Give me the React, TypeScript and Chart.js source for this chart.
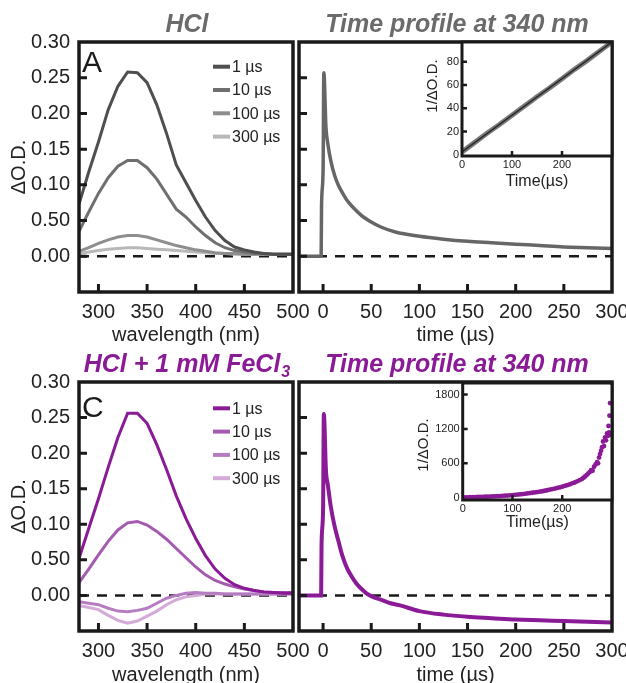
import React, { useEffect, useRef } from 'react';
import { Chart, registerables } from 'chart.js';

Chart.register(...registerables);

const FONT = '"Liberation Sans", Arial, Helvetica, sans-serif';
const INK = '#1a1a1a';
const TXT = '#222222';

// ---------- Panels A & C : transient spectra ----------
const wavelengths = [280, 290, 300, 310, 320, 330, 340, 350, 360, 370, 380, 390, 400, 410, 420, 430, 440, 450, 460, 470, 480, 490, 500];
const hcl1us = [0.073, 0.118, 0.160, 0.205, 0.238, 0.258, 0.257, 0.243, 0.212, 0.172, 0.128, 0.103, 0.078, 0.055, 0.036, 0.022, 0.013, 0.009, 0.006, 0.004, 0.003, 0.003, 0.003];
const hcl10us = [0.035, 0.062, 0.088, 0.110, 0.126, 0.134, 0.134, 0.124, 0.108, 0.087, 0.066, 0.055, 0.041, 0.029, 0.019, 0.012, 0.008, 0.006, 0.004, 0.004, 0.003, 0.003, 0.003];
const hcl100us = [0.007, 0.012, 0.018, 0.023, 0.027, 0.029, 0.029, 0.027, 0.023, 0.019, 0.015, 0.012, 0.009, 0.007, 0.005, 0.004, 0.004, 0.003, 0.003, 0.003, 0.003, 0.003, 0.003];
const hcl300us = [0.004, 0.006, 0.008, 0.010, 0.011, 0.012, 0.012, 0.011, 0.010, 0.009, 0.008, 0.007, 0.006, 0.005, 0.004, 0.004, 0.003, 0.003, 0.003, 0.003, 0.003, 0.003, 0.003];
const fe1us = [0.052, 0.094, 0.136, 0.180, 0.222, 0.256, 0.256, 0.242, 0.212, 0.177, 0.140, 0.108, 0.080, 0.056, 0.037, 0.024, 0.015, 0.010, 0.007, 0.005, 0.004, 0.003, 0.003];
const fe10us = [0.018, 0.037, 0.057, 0.076, 0.092, 0.102, 0.104, 0.099, 0.090, 0.079, 0.066, 0.053, 0.040, 0.029, 0.021, 0.016, 0.012, 0.009, 0.007, 0.005, 0.004, 0.004, 0.004];
const fe100us = [-0.009, -0.011, -0.013, -0.018, -0.022, -0.023, -0.021, -0.018, -0.011, -0.004, 0.000, 0.003, 0.004, 0.003, 0.003, 0.002, 0.002, 0.002, 0.002, 0.002, 0.002, 0.002, 0.002];
const fe300us = [-0.014, -0.017, -0.020, -0.028, -0.035, -0.039, -0.036, -0.029, -0.022, -0.013, -0.006, -0.002, 0.000, 0.002, 0.002, 0.002, 0.002, 0.002, 0.002, 0.002, 0.002, 0.002, 0.002];
const delayLabels = ['1 µs', '10 µs', '100 µs', '300 µs'];
const grayColors = ['#4f4f4f', '#6f6f6f', '#8e8e8e', '#b8b8b8'];
const purpleColors = ['#8a1a95', '#a45aaf', '#b67cc1', '#d4aad9'];

// ---------- Panels B & D : time profiles at 340 nm ----------
const timeB = [-25, -2, -1.6, 0, 0.8, 3, 5, 8, 12, 16, 20, 25, 30, 40, 50, 60, 75, 100, 125, 150, 175, 200, 225, 250, 275, 300];
const odB = [0, 0, 0.07, 0.12, 0.257, 0.18, 0.157, 0.134, 0.113, 0.099, 0.089, 0.078, 0.070, 0.057, 0.048, 0.041, 0.034, 0.028, 0.024, 0.021, 0.019, 0.017, 0.015, 0.013, 0.012, 0.011];
const timeD = [-25, -2, -1.6, 0, 0.8, 3, 5, 8, 12, 16, 20, 25, 30, 35, 40, 45, 50, 60, 70, 80, 100, 125, 150, 175, 200, 225, 250, 275, 300];
const odD = [0, 0, 0.07, 0.12, 0.255, 0.175, 0.155, 0.125, 0.097, 0.076, 0.056, 0.038, 0.026, 0.016, 0.009, 0.003, -0.001, -0.006, -0.011, -0.014, -0.022, -0.027, -0.030, -0.032, -0.034, -0.035, -0.036, -0.037, -0.038];

// ---------- Insets : 1/ΔO.D. vs time ----------
const insetBTime = [0, 25, 50, 75, 100, 125, 150, 175, 200, 225, 250, 275, 300];
const insetBInvOD = [2.5, 10.5, 18.5, 26, 34, 42, 50, 57.5, 65.5, 73.5, 81, 89, 97];
const insetBFitTime = [0, 300];
const insetBFitInvOD = [2.5, 97];
const insetDTime = [0, 5, 10, 15, 20, 25, 30, 35, 40, 45, 50, 55, 60, 65, 70, 75, 80, 85, 90, 95, 100, 105, 110, 115, 120, 125, 130, 135, 140, 145, 150, 155, 160, 165, 170, 175, 180, 185, 190, 195, 200, 205, 210, 215, 220, 225, 230, 235, 240, 243, 246, 249, 252, 255, 258, 261, 264, 267, 270, 272, 274, 276, 278, 280, 282, 284, 286, 288, 290, 292, 293, 294, 295, 296, 297, 298, 299, 300];
const insetDInvOD = [2, 4, 6, 8, 9, 11, 12, 14, 15, 17, 18, 20, 22, 24, 27, 29, 32, 35, 38, 42, 46, 50, 54, 58, 63, 68, 74, 80, 86, 92, 98, 105, 113, 121, 130, 140, 150, 158, 170, 180, 192, 205, 218, 232, 250, 265, 285, 305, 330, 350, 370, 395, 420, 445, 480, 470, 540, 580, 620, 600, 700, 760, 820, 880, 980, 900, 1050, 1000, 1120, 1080, 1250, 1140, 1430, 1650, 1100, 1120, 1110, 2000];

// ---------- Tick values / labels ----------
const specYTicks = [0, 0.05, 0.1, 0.15, 0.2, 0.25, 0.3];
const specYTickLabels = ['0.00', '0.50', '0.10', '0.15', '0.20', '0.25', '0.30'];
const specXTicks = [300, 350, 400, 450, 500];
const timeXTicks = [0, 50, 100, 150, 200, 250, 300];
const insetXTicks = [0, 100, 200, 300];
const insetXTickLabels = ['0', '100', '200', ''];
const insetBYTicks = [0, 20, 40, 60, 80];
const insetDYTicks = [0, 600, 1200, 1800];

function makeDecor(cfg: any) {
  return {
    id: 'decor',
    beforeDatasetsDraw(chart: any) {
      if (!cfg.fillArea) return;
      const { ctx, chartArea: a } = chart;
      ctx.save();
      ctx.fillStyle = '#ffffff';
      ctx.fillRect(a.left, a.top, a.right - a.left, a.bottom - a.top);
      ctx.restore();
    },
    afterDraw(chart: any) {
      const { ctx, chartArea: a } = chart;
      const xs = chart.scales.x;
      const ys = chart.scales.y;
      ctx.save();
      ctx.strokeStyle = INK;
      ctx.lineCap = 'butt';
      ctx.lineWidth = cfg.tickWidth;
      ctx.beginPath();
      xs.ticks.forEach((t: any) => {
        const p = xs.getPixelForValue(t.value);
        if (p > a.left + 3 && p < a.right - 3) {
          ctx.moveTo(p, a.bottom);
          ctx.lineTo(p, a.bottom - cfg.tickLen);
        }
      });
      ys.ticks.forEach((t: any) => {
        const p = ys.getPixelForValue(t.value);
        if (p > a.top + 3 && p < a.bottom - 3) {
          ctx.moveTo(a.left, p);
          ctx.lineTo(a.left + cfg.tickLen, p);
        }
      });
      ctx.stroke();
      ctx.lineWidth = cfg.frameWidth;
      ctx.strokeRect(a.left, a.top, a.right - a.left, a.bottom - a.top);

      if (cfg.letter) {
        ctx.fillStyle = INK;
        ctx.font = `30px ${FONT}`;
        ctx.textAlign = 'left';
        ctx.textBaseline = 'alphabetic';
        ctx.fillText(cfg.letter.text, cfg.letter.x, cfg.letter.y);
      }
      if (cfg.legend) {
        const L = cfg.legend;
        L.labels.forEach((lab: string, i: number) => {
          const y = L.y + i * L.dy;
          ctx.strokeStyle = L.colors[i];
          ctx.lineWidth = 4;
          ctx.beginPath();
          ctx.moveTo(L.x, y);
          ctx.lineTo(L.x + 17, y);
          ctx.stroke();
          ctx.fillStyle = TXT;
          ctx.font = `16px ${FONT}`;
          ctx.textAlign = 'left';
          ctx.textBaseline = 'middle';
          ctx.fillText(lab, L.x + 19, y + 1);
        });
      }
      if (cfg.title) {
        const T = cfg.title;
        ctx.fillStyle = T.color;
        ctx.textBaseline = 'alphabetic';
        ctx.textAlign = 'left';
        ctx.font = `italic bold 25px ${FONT}`;
        const w1 = ctx.measureText(T.text).width;
        let w2 = 0;
        if (T.sub) {
          ctx.font = `italic bold 16px ${FONT}`;
          w2 = ctx.measureText(T.sub).width + 1;
        }
        const x0 = T.x - (w1 + w2) / 2;
        ctx.font = `italic bold 25px ${FONT}`;
        ctx.fillText(T.text, x0, T.y);
        if (T.sub) {
          ctx.font = `italic bold 16px ${FONT}`;
          ctx.fillText(T.sub, x0 + w1 + 1, T.y + 5);
        }
      }
      if (cfg.yTitle) {
        ctx.translate(cfg.yTitle.x, cfg.yTitle.y);
        ctx.rotate(-Math.PI / 2);
        ctx.font = `15px ${FONT}`;
        ctx.fillStyle = TXT;
        ctx.textAlign = 'center';
        ctx.textBaseline = 'middle';
        ctx.fillText(cfg.yTitle.text, 0, 0);
      }
      ctx.restore();
    },
  };
}

function xAxis(min: number, max: number, ticks: number[], labels: string[] | null, height: number, fontSize: number, pad: number, title: string, titleSize: number, titlePad: number) {
  return {
    type: 'linear',
    min,
    max,
    afterBuildTicks: (s: any) => { s.ticks = ticks.map((v) => ({ value: v })); },
    afterFit: (s: any) => { s.height = height; },
    grid: { display: false, drawTicks: false },
    border: { display: false },
    ticks: {
      autoSkip: false,
      maxRotation: 0,
      minRotation: 0,
      padding: pad,
      color: TXT,
      font: { family: FONT, size: fontSize },
      callback: (v: any, i: number) => (labels ? labels[i] : String(v)),
    },
    title: { display: true, text: title, color: TXT, font: { family: FONT, size: titleSize }, padding: { top: 0, bottom: titlePad } },
  };
}

function yAxis(min: number, max: number, ticks: number[], labels: string[] | null, width: number, show: boolean, fontSize: number, pad: number, title: string | null) {
  return {
    type: 'linear',
    min,
    max,
    afterBuildTicks: (s: any) => { s.ticks = ticks.map((v) => ({ value: v })); },
    afterFit: (s: any) => { s.width = width; },
    grid: { display: false, drawTicks: false },
    border: { display: false },
    ticks: {
      display: show,
      autoSkip: false,
      padding: pad,
      color: TXT,
      font: { family: FONT, size: fontSize },
      callback: (v: any, i: number) => (labels ? labels[i] : String(v)),
    },
    title: title
      ? { display: true, text: title, color: TXT, font: { family: FONT, size: 20 }, padding: { top: 7, bottom: 0 } }
      : { display: false },
  };
}

const baseOptions = {
  responsive: false,
  maintainAspectRatio: false,
  animation: false,
  devicePixelRatio: 1,
  events: [],
  plugins: { legend: { display: false }, tooltip: { enabled: false } },
};

function zeroLine(x0: number, x1: number) {
  return {
    label: 'zero',
    data: [{ x: x0, y: 0 }, { x: x1, y: 0 }],
    borderColor: INK,
    borderWidth: 2.5,
    borderDash: [10, 8],
    pointRadius: 0,
    order: 10,
  };
}

function spectrumConfig(series: number[][], colors: string[], xHeight: number, decor: any) {
  return {
    type: 'line',
    data: {
      datasets: [
        ...series.map((s, i) => ({
          label: delayLabels[i],
          data: wavelengths.map((w, j) => ({ x: w, y: s[j] })),
          borderColor: colors[i],
          borderWidth: 3,
          pointRadius: 0,
          tension: 0,
          order: i,
        })),
        zeroLine(280, 500),
      ],
    },
    options: {
      ...baseOptions,
      layout: { padding: { left: 0, top: 42, right: 37, bottom: 0 } },
      scales: {
        x: xAxis(280, 500, specXTicks, null, xHeight, 20, 8, 'wavelength (nm)', 20, 8),
        y: yAxis(-0.05, 0.3, specYTicks, specYTickLabels, 79, true, 20, 9, 'ΔO.D.'),
      },
    },
    plugins: [makeDecor(decor)],
  };
}

function decayConfig(times: number[], values: number[], color: string, width: number, xHeight: number, decor: any) {
  return {
    type: 'line',
    data: {
      datasets: [
        {
          label: '340 nm',
          data: times.map((t, j) => ({ x: t, y: values[j] })),
          borderColor: color,
          borderWidth: width,
          pointRadius: 0,
          cubicInterpolationMode: 'monotone',
          order: 0,
        },
        zeroLine(-25, 300),
      ],
    },
    options: {
      ...baseOptions,
      layout: { padding: { left: 0, top: 42, right: 38, bottom: 0 } },
      scales: {
        x: xAxis(-25, 300, timeXTicks, null, xHeight, 20, 8, 'time (µs)', 20, 8),
        y: yAxis(-0.05, 0.3, specYTicks, null, 9, false, 20, 9, null),
      },
    },
    plugins: [makeDecor(decor)],
  };
}

function insetConfig(datasets: any[], yMin: number, yMax: number, yTicks: number[], yWidth: number, xHeight: number, decor: any) {
  return {
    type: 'line',
    data: { datasets },
    options: {
      ...baseOptions,
      layout: { padding: { left: 0, top: 12, right: 28, bottom: 0 } },
      scales: {
        x: xAxis(0, 300, insetXTicks, insetXTickLabels, xHeight, 11, 2, 'Time(µs)', 16, 18.4),
        y: yAxis(yMin, yMax, yTicks, null, yWidth, true, 11, 3, null),
      },
    },
    plugins: [makeDecor(decor)],
  };
}

function ChartBox({ left, top, width, height, config }: any) {
  const ref = useRef<HTMLCanvasElement | null>(null);
  useEffect(() => {
    const chart = new Chart(ref.current as HTMLCanvasElement, config);
    return () => chart.destroy();
  }, []);
  return (
    <canvas
      ref={ref}
      width={width}
      height={height}
      style={{ position: 'absolute', left, top, width, height }}
    />
  );
}

export default function App() {
  const mainDecor = { frameWidth: 3.5, tickWidth: 3, tickLen: 8 };
  const insetDecor = { frameWidth: 3, tickWidth: 2.5, tickLen: 5, fillArea: true };

  const cfgA = spectrumConfig([hcl1us, hcl10us, hcl100us, hcl300us], grayColors, 63, {
    ...mainDecor,
    letter: { text: 'A', x: 82, y: 72 },
    legend: { labels: delayLabels, colors: grayColors, x: 213, y: 66.7, dy: 23.3 },
    title: { text: 'HCl', x: 187, y: 32, color: '#6b6b6b' },
  });
  const cfgB = decayConfig(timeB, odB, '#666666', 3.5, 63, {
    ...mainDecor,
    letter: { text: 'B', x: 300, y: 71 },
    title: { text: 'Time profile at 340 nm', x: 167, y: 32, color: '#6b6b6b' },
  });
  const cfgC = spectrumConfig([fe1us, fe10us, fe100us, fe300us], purpleColors, 64, {
    ...mainDecor,
    letter: { text: 'C', x: 82, y: 77 },
    legend: { labels: delayLabels, colors: purpleColors, x: 213, y: 68.3, dy: 23.3 },
    title: { text: 'HCl + 1 mM FeCl', sub: '3', x: 187, y: 32, color: '#8b1a96' },
  });
  const cfgD = decayConfig(timeD, odD, '#8b1a96', 4, 64, {
    ...mainDecor,
    letter: { text: 'D', x: 300, y: 78 },
    title: { text: 'Time profile at 340 nm', x: 167, y: 32, color: '#8b1a96' },
  });
  const cfgInsetB = insetConfig(
    [
      {
        label: 'fit',
        data: insetBFitTime.map((t, j) => ({ x: t, y: insetBFitInvOD[j] })),
        borderColor: '#2a2a2a',
        borderWidth: 1.5,
        pointRadius: 0,
        order: 0,
      },
      {
        label: 'data',
        data: insetBTime.map((t, j) => ({ x: t, y: insetBInvOD[j] })),
        borderColor: '#7a7a7a',
        borderWidth: 5,
        pointRadius: 0,
        order: 1,
      },
    ],
    -1, 97, insetBYTicks, 52, 54,
    { ...insetDecor, yTitle: { text: '1/ΔO.D.', x: 23, y: 56 } }
  );
  const cfgInsetD = insetConfig(
    [
      {
        label: 'data',
        data: insetDTime.map((t, j) => ({ x: t, y: insetDInvOD[j] })),
        showLine: false,
        pointRadius: 2.4,
        pointBorderWidth: 0,
        pointBackgroundColor: '#8b1a96',
        borderColor: '#8b1a96',
      },
    ],
    -40, 2000, insetDYTicks, 52.7, 51,
    { ...insetDecor, yTitle: { text: '1/ΔO.D.', x: 14, y: 74 } }
  );

  return (
    <div style={{ position: 'absolute', left: 0, top: 0, width: 626, height: 683, overflow: 'hidden', background: '#ffffff' }}>
      <ChartBox left={0} top={0} width={330} height={355} config={cfgA} />
      <ChartBox left={290} top={0} width={360} height={355} config={cfgB} />
      <ChartBox left={0} top={340} width={330} height={355} config={cfgC} />
      <ChartBox left={290} top={340} width={360} height={355} config={cfgD} />
      <ChartBox left={410} top={30} width={230} height={180} config={cfgInsetB} />
      <ChartBox left={410} top={371} width={230} height={180} config={cfgInsetD} />
    </div>
  );
}
